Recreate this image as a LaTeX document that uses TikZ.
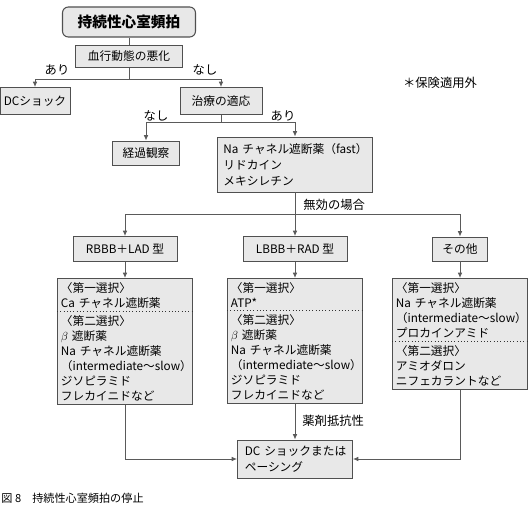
\documentclass[tikz,border=0pt]{standalone}
\usepackage{fontspec}
\setmainfont{Noto Sans CJK JP}
\definecolor{boxgray}{RGB}{232, 232, 232}
\definecolor{edgegray}{RGB}{80, 80, 80}
\definecolor{linegray}{RGB}{90, 90, 90}
\usetikzlibrary{arrows.meta, positioning, shapes.multipart, calc}
\tikzset{
	flow/.style={rectangle, draw=edgegray, fill=boxgray, line width=0.8pt, align=center, inner sep=0pt, font=\fontsize{10}{12.5}\selectfont},
	headbox/.style={rectangle, rounded corners=5pt, draw=edgegray, fill=boxgray, line width=0.9pt, align=center, inner sep=0pt, minimum width=3.99cm, minimum height=0.9cm, font=\fontsize{12.5}{14}\selectfont\bfseries},
	listbox/.style={rectangle, draw=edgegray, fill=boxgray, line width=0.8pt, align=left, inner xsep=0.18cm, inner ysep=2pt, font=\fontsize{10}{13.5}\selectfont},
	choice/.style={rectangle split, rectangle split parts=2, rectangle split draw splits=false, draw=edgegray, fill=boxgray, line width=0.8pt, text width=3.85cm, align=left, inner xsep=0.1cm, inner ysep=2.8pt, anchor=north, font=\fontsize{10}{12.8}\selectfont},
	lbl/.style={inner sep=1pt, font=\fontsize{10.5}{12}\selectfont},
	split/.style={dotted, line width=0.8pt, draw=black!80},
	link/.style={line width=0.8pt, draw=linegray},
	arrow/.style={-{Latex[length=1.6mm, width=1.4mm]}, line width=0.8pt, draw=linegray},
}
\begin{document}
\begin{tikzpicture}[x=0.03cm, y=-0.03cm]
	\useasboundingbox (0,0) rectangle (530,513);
	\node[headbox] (top) at (129,22) {持続性心室頻拍};
	\node[flow, minimum width=3.21cm, minimum height=0.66cm] (hd) at (129,56.5) {血行動態の悪化};
	\node[flow, minimum width=2.1cm, minimum height=0.81cm] (dc) at (35,101) {DCショック};
	\node[flow, minimum width=2.46cm, minimum height=0.81cm] (tx) at (221,101) {治療の適応};
	\node[flow, minimum width=2.01cm, minimum height=0.72cm] (obs) at (146,153) {経過観察};
	\node[listbox, text width=4.29cm, minimum height=1.65cm] (na) at (295,164.5) {Na~チャネル遮断薬（fast）\\リドカイン\\メキシレチン};
	\node[flow, minimum width=3.12cm, minimum height=0.75cm] (t1) at (125,249) {RBBB＋LAD 型};
	\node[flow, minimum width=3.12cm, minimum height=0.75cm] (t2) at (295,249) {LBBB＋RAD 型};
	\node[flow, minimum width=1.65cm, minimum height=0.72cm] (t3) at (460,249) {その他};
	\node[choice] (c1) at (125,278) {〈第一選択〉\\Ca~チャネル遮断薬
		\nodepart{two}〈第二選択〉\\$\beta$~遮断薬\\Na~チャネル遮断薬\\（intermediate〜slow）\\ジソピラミド\\フレカイニドなど};
	\node[choice] (c2) at (295,278) {〈第一選択〉\\ATP*
		\nodepart{two}〈第二選択〉\\$\beta$~遮断薬\\Na~チャネル遮断薬\\（intermediate〜slow）\\ジソピラミド\\フレカイニドなど};
	\node[choice] (c3) at (460,278) {〈第一選択〉\\Na~チャネル遮断薬\\（intermediate〜slow）\\プロカインアミド
		\nodepart{two}〈第二選択〉\\アミオダロン\\ニフェカラントなど};
	\node[listbox, inner xsep=0.22cm, text width=3.01cm, minimum height=1.14cm] (dcp) at (295,459) {DC~ショックまたは\\ペーシング};
	\draw[split] (c1.text split west) -- (c1.text split east);
	\draw[split] (c2.text split west) -- (c2.text split east);
	\draw[split] (c3.text split west) -- (c3.text split east);

	\node[lbl] (yes1) at (57,70) {あり};
	\node[lbl] (no1) at (205,70) {なし};
	\node[lbl] (no2) at (156,116) {なし};
	\node[lbl] (yes2) at (283,116) {あり};
	\node[lbl, anchor=west] (fail) at (302,205) {無効の場合};
	\node[lbl, anchor=west] (resist) at (301,421) {薬剤抵抗性};
	\node[lbl] (note) at (440,83) {＊保険適用外};
	\node[lbl, anchor=west, font=\fontsize{9.5}{11}\selectfont] (cap) at (0,498) {図 8　持続性心室頻拍の停止};

	\coordinate (j1) at (129,79);
	\coordinate (j2) at (221,122);
	\coordinate (j3) at (295,214);
	\draw[link] (top) -- (hd);
	\draw[link] (hd) -- (j1);
	\draw[arrow] (j1) -| (dc);
	\draw[arrow] (j1) -| (tx);
	\draw[link] (tx) -- (j2);
	\draw[arrow] (j2) -| (obs);
	\draw[arrow] (j2) -| (na);
	\draw[link] (na) -- (j3);
	\draw[arrow] (j3) -| (t1);
	\draw[arrow] (j3) -- (t2);
	\draw[arrow] (j3) -| (t3);
	\draw[arrow] (t1) -- (c1);
	\draw[arrow] (t2) -- (c2);
	\draw[arrow] (t3) -- (c3);
	\draw[arrow] (c1) |- (dcp);
	\draw[arrow] (c2) -- (dcp);
	\draw[arrow] (c3) |- (dcp);
\end{tikzpicture}
\end{document}
